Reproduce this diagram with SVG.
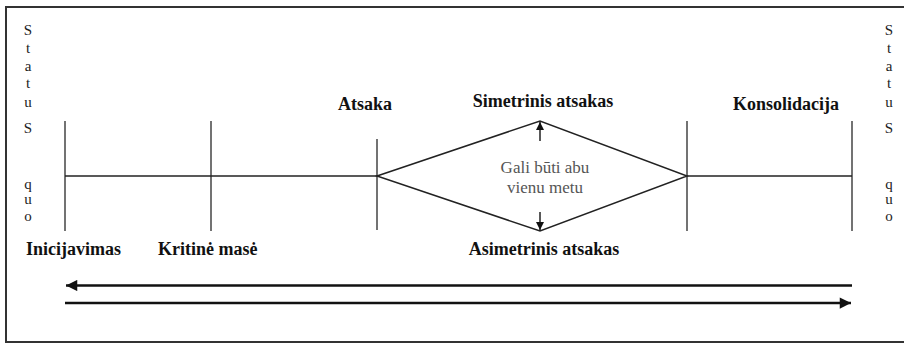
<svg xmlns="http://www.w3.org/2000/svg" width="904" height="343" viewBox="0 0 904 343">
<defs>
<style>
text{font-family:'Liberation Serif','Times New Roman',Times,serif}
.lbl{font-weight:bold;font-size:18px;fill:#111}
.sq{font-size:15px;fill:#222;text-anchor:middle}
.note{font-size:17px;fill:#555;text-anchor:middle}
.tick{stroke:#444;stroke-width:1.5;fill:none}
.ln{stroke:#222;stroke-width:1.5;fill:none}
.big{stroke:#111;stroke-width:2.5;fill:none}
</style>
<marker id="ah" viewBox="0 0 10 10" refX="10" refY="5" markerWidth="5" markerHeight="4.5" markerUnits="strokeWidth" orient="auto">
<path d="M0,0 L10,5 L0,10 Z" fill="#111"/>
</marker>
<marker id="sa" viewBox="0 0 10 10" refX="10" refY="5" markerWidth="9" markerHeight="8" markerUnits="userSpaceOnUse" orient="auto">
<path d="M0,0 L10,5 L0,10 Z" fill="#111"/>
</marker>
</defs>
<rect width="904" height="343" fill="#fff"/>
<path d="M920,7 H6 V342 H920" stroke="#333" stroke-width="2" fill="none"/>

<g id="status-quo-left" font-family="Liberation Serif, serif">
<text class="sq" x="28" y="35">S</text>
<text class="sq" x="28" y="53">t</text>
<text class="sq" x="28" y="71">a</text>
<text class="sq" x="28" y="88">t</text>
<text class="sq" x="28" y="107">u</text>
<text class="sq" x="28" y="133">S</text>
<text class="sq" x="28" y="189">q</text>
<text class="sq" x="28" y="204">u</text>
<text class="sq" x="28" y="221">o</text>
</g>
<g id="status-quo-right">
<text class="sq" x="889" y="35">S</text>
<text class="sq" x="889" y="53">t</text>
<text class="sq" x="889" y="71">a</text>
<text class="sq" x="889" y="88">t</text>
<text class="sq" x="889" y="107">u</text>
<text class="sq" x="889" y="133">S</text>
<text class="sq" x="889" y="189">q</text>
<text class="sq" x="889" y="204">u</text>
<text class="sq" x="889" y="221">o</text>
</g>

<g id="inicijavimas">
<line class="tick" x1="65" y1="121" x2="65" y2="231"/>
<text class="lbl" x="26" y="255">Inicijavimas</text>
</g>
<g id="kritine-mase">
<line class="tick" x1="211" y1="121" x2="211" y2="231"/>
<text class="lbl" x="158" y="255">Kritinė masė</text>
</g>
<g id="atsaka">
<line class="tick" x1="377" y1="139" x2="377" y2="230"/>
<text class="lbl" x="338" y="110">Atsaka</text>
</g>
<g id="konsolidacija">
<line class="tick" x1="687" y1="121" x2="687" y2="231"/>
<text class="lbl" x="733" y="110">Konsolidacija</text>
</g>
<g id="status-quo-end">
<line class="tick" x1="852" y1="121" x2="852" y2="231"/>
</g>
<g id="atsakas-diamond">
<path class="ln" d="M377,176 L540,121 L687,176 L540,231 Z"/>
<text class="lbl" x="543" y="107" text-anchor="middle">Simetrinis atsakas</text>
<text class="lbl" x="544" y="255" text-anchor="middle">Asimetrinis atsakas</text>
<text class="note" x="545" y="173">Gali būti abu</text>
<text class="note" x="545" y="193">vienu metu</text>
</g>

<g id="connectors">
<line class="ln" x1="65" y1="176" x2="377" y2="176"/>
<line class="ln" x1="687" y1="176" x2="852" y2="176"/>
<line class="ln" x1="540" y1="141" x2="540" y2="122" marker-end="url(#sa)"/>
<line class="ln" x1="540" y1="212" x2="540" y2="230" marker-end="url(#sa)"/>
<line class="big" x1="852" y1="285.5" x2="66" y2="285.5" marker-end="url(#ah)"/>
<line class="big" x1="65" y1="303" x2="851" y2="303" marker-end="url(#ah)"/>
</g>
</svg>
